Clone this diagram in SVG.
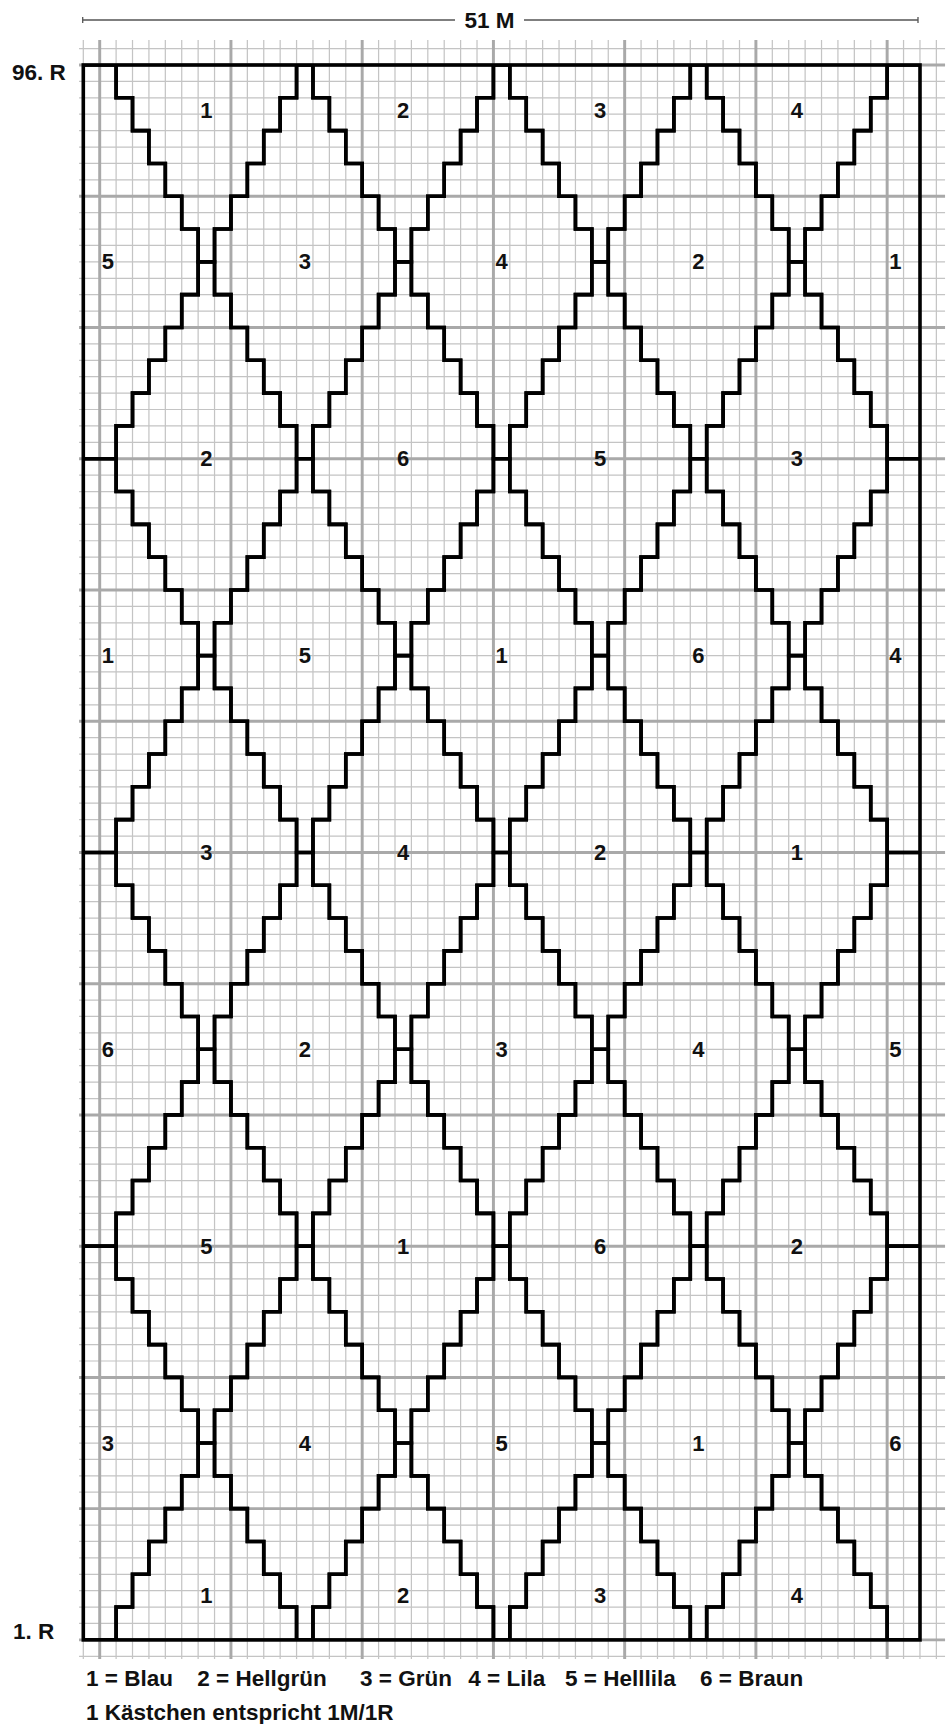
<svg xmlns="http://www.w3.org/2000/svg" xmlns:xlink="http://www.w3.org/1999/xlink" width="950" height="1724" viewBox="0 0 950 1724">
<style>
.thin{stroke:#c4c4c4;stroke-width:0.075;fill:none}
.thick{stroke:#a9a9a9;stroke-width:0.18;fill:none}
.dia{fill:none;stroke:#000;stroke-width:0.22;stroke-linejoin:miter;stroke-linecap:square}
.lbl{font-family:"Liberation Sans",Arial,sans-serif;font-weight:bold;font-size:22px;text-anchor:middle;fill:#111}
.txt{font-family:"Liberation Sans",Arial,sans-serif;font-weight:bold;font-size:22.5px;fill:#111}
.dim{stroke:#555;stroke-width:1.3;fill:none}
</style>
<defs>
<path id="dia" d="M-0.5,-12H0.5V-10H1.5V-8H2.5V-6H3.5V-4H4.5V-2H5.5V2H4.5V4H3.5V6H2.5V8H1.5V10H0.5V12H-0.5V10H-1.5V8H-2.5V6H-3.5V4H-4.5V2H-5.5V-2H-4.5V-4H-3.5V-6H-2.5V-8H-1.5V-10H-0.5Z"/>
<path id="halfL" d="M-1.5,-12H0.5V-10H1.5V-8H2.5V-6H3.5V-4H4.5V-2H5.5V2H4.5V4H3.5V6H2.5V8H1.5V10H0.5V12H-1.5"/>
<path id="halfR" d="M1.5,-12H-0.5V-10H-1.5V-8H-2.5V-6H-3.5V-4H-4.5V-2H-5.5V2H-4.5V4H-3.5V6H-2.5V8H-1.5V10H-0.5V12H1.5"/>
<clipPath id="clip" clipPathUnits="userSpaceOnUse"><rect x="83.3" y="65" width="836.7" height="1574.9"/></clipPath>
</defs>

<!-- header dimension -->
<g id="header">
<path class="dim" d="M82.7,20H455M524,20H918M82.7,17V23M918,17V23"/>
<text class="txt" x="489.5" y="28.3" text-anchor="middle" font-size="23.5">51 M</text>
</g>
<text class="txt" x="12" y="80" font-size="23.5">96. R</text>
<text class="txt" x="13" y="1639.3" font-size="23.5">1. R</text>

<!-- grid -->
<g id="grid" transform="translate(83.3,65) scale(16.405)">
<path class="thin" d="M0,-1.52V97.17M2,-1.52V97.17M3,-1.52V97.17M4,-1.52V97.17M5,-1.52V97.17M6,-1.52V97.17M7,-1.52V97.17M8,-1.52V97.17M10,-1.52V97.17M11,-1.52V97.17M12,-1.52V97.17M13,-1.52V97.17M14,-1.52V97.17M15,-1.52V97.17M16,-1.52V97.17M18,-1.52V97.17M19,-1.52V97.17M20,-1.52V97.17M21,-1.52V97.17M22,-1.52V97.17M23,-1.52V97.17M24,-1.52V97.17M26,-1.52V97.17M27,-1.52V97.17M28,-1.52V97.17M29,-1.52V97.17M30,-1.52V97.17M31,-1.52V97.17M32,-1.52V97.17M34,-1.52V97.17M35,-1.52V97.17M36,-1.52V97.17M37,-1.52V97.17M38,-1.52V97.17M39,-1.52V97.17M40,-1.52V97.17M42,-1.52V97.17M43,-1.52V97.17M44,-1.52V97.17M45,-1.52V97.17M46,-1.52V97.17M47,-1.52V97.17M48,-1.52V97.17M50,-1.52V97.17M51,-1.52V97.17M52,-1.52V97.17"/>
<path class="thin" d="M-0.26,-1H52.53M-0.26,1H52.53M-0.26,2H52.53M-0.26,3H52.53M-0.26,4H52.53M-0.26,5H52.53M-0.26,6H52.53M-0.26,7H52.53M-0.26,9H52.53M-0.26,10H52.53M-0.26,11H52.53M-0.26,12H52.53M-0.26,13H52.53M-0.26,14H52.53M-0.26,15H52.53M-0.26,17H52.53M-0.26,18H52.53M-0.26,19H52.53M-0.26,20H52.53M-0.26,21H52.53M-0.26,22H52.53M-0.26,23H52.53M-0.26,25H52.53M-0.26,26H52.53M-0.26,27H52.53M-0.26,28H52.53M-0.26,29H52.53M-0.26,30H52.53M-0.26,31H52.53M-0.26,33H52.53M-0.26,34H52.53M-0.26,35H52.53M-0.26,36H52.53M-0.26,37H52.53M-0.26,38H52.53M-0.26,39H52.53M-0.26,41H52.53M-0.26,42H52.53M-0.26,43H52.53M-0.26,44H52.53M-0.26,45H52.53M-0.26,46H52.53M-0.26,47H52.53M-0.26,49H52.53M-0.26,50H52.53M-0.26,51H52.53M-0.26,52H52.53M-0.26,53H52.53M-0.26,54H52.53M-0.26,55H52.53M-0.26,57H52.53M-0.26,58H52.53M-0.26,59H52.53M-0.26,60H52.53M-0.26,61H52.53M-0.26,62H52.53M-0.26,63H52.53M-0.26,65H52.53M-0.26,66H52.53M-0.26,67H52.53M-0.26,68H52.53M-0.26,69H52.53M-0.26,70H52.53M-0.26,71H52.53M-0.26,73H52.53M-0.26,74H52.53M-0.26,75H52.53M-0.26,76H52.53M-0.26,77H52.53M-0.26,78H52.53M-0.26,79H52.53M-0.26,81H52.53M-0.26,82H52.53M-0.26,83H52.53M-0.26,84H52.53M-0.26,85H52.53M-0.26,86H52.53M-0.26,87H52.53M-0.26,89H52.53M-0.26,90H52.53M-0.26,91H52.53M-0.26,92H52.53M-0.26,93H52.53M-0.26,94H52.53M-0.26,95H52.53M-0.26,97H52.53"/>
<path class="thick" d="M1,-1.52V97.17M9,-1.52V97.17M17,-1.52V97.17M25,-1.52V97.17M33,-1.52V97.17M41,-1.52V97.17M49,-1.52V97.17M-0.26,0H52.53M-0.26,8H52.53M-0.26,16H52.53M-0.26,24H52.53M-0.26,32H52.53M-0.26,40H52.53M-0.26,48H52.53M-0.26,56H52.53M-0.26,64H52.53M-0.26,72H52.53M-0.26,80H52.53M-0.26,88H52.53M-0.26,96H52.53"/>
</g>

<!-- diamonds -->
<g id="diamonds" clip-path="url(#clip)">
<g id="r0c1"><use class="dia" xlink:href="#dia" transform="translate(206.34,65) scale(16.405)"/></g>
<g id="r0c2"><use class="dia" xlink:href="#dia" transform="translate(403.2,65) scale(16.405)"/></g>
<g id="r0c3"><use class="dia" xlink:href="#dia" transform="translate(600.06,65) scale(16.405)"/></g>
<g id="r0c4"><use class="dia" xlink:href="#dia" transform="translate(796.92,65) scale(16.405)"/></g>

<g id="r1c0"><use class="dia" xlink:href="#halfL" transform="translate(107.91,261.86) scale(16.405)"/></g>
<g id="r1c1"><use class="dia" xlink:href="#dia" transform="translate(304.77,261.86) scale(16.405)"/></g>
<g id="r1c2"><use class="dia" xlink:href="#dia" transform="translate(501.63,261.86) scale(16.405)"/></g>
<g id="r1c3"><use class="dia" xlink:href="#dia" transform="translate(698.49,261.86) scale(16.405)"/></g>
<g id="r1c4"><use class="dia" xlink:href="#halfR" transform="translate(895.35,261.86) scale(16.405)"/></g>

<g id="r2c1"><use class="dia" xlink:href="#dia" transform="translate(206.34,458.72) scale(16.405)"/></g>
<g id="r2c2"><use class="dia" xlink:href="#dia" transform="translate(403.2,458.72) scale(16.405)"/></g>
<g id="r2c3"><use class="dia" xlink:href="#dia" transform="translate(600.06,458.72) scale(16.405)"/></g>
<g id="r2c4"><use class="dia" xlink:href="#dia" transform="translate(796.92,458.72) scale(16.405)"/></g>

<g id="r3c0"><use class="dia" xlink:href="#halfL" transform="translate(107.91,655.58) scale(16.405)"/></g>
<g id="r3c1"><use class="dia" xlink:href="#dia" transform="translate(304.77,655.58) scale(16.405)"/></g>
<g id="r3c2"><use class="dia" xlink:href="#dia" transform="translate(501.63,655.58) scale(16.405)"/></g>
<g id="r3c3"><use class="dia" xlink:href="#dia" transform="translate(698.49,655.58) scale(16.405)"/></g>
<g id="r3c4"><use class="dia" xlink:href="#halfR" transform="translate(895.35,655.58) scale(16.405)"/></g>

<g id="r4c1"><use class="dia" xlink:href="#dia" transform="translate(206.34,852.44) scale(16.405)"/></g>
<g id="r4c2"><use class="dia" xlink:href="#dia" transform="translate(403.2,852.44) scale(16.405)"/></g>
<g id="r4c3"><use class="dia" xlink:href="#dia" transform="translate(600.06,852.44) scale(16.405)"/></g>
<g id="r4c4"><use class="dia" xlink:href="#dia" transform="translate(796.92,852.44) scale(16.405)"/></g>

<g id="r5c0"><use class="dia" xlink:href="#halfL" transform="translate(107.91,1049.3) scale(16.405)"/></g>
<g id="r5c1"><use class="dia" xlink:href="#dia" transform="translate(304.77,1049.3) scale(16.405)"/></g>
<g id="r5c2"><use class="dia" xlink:href="#dia" transform="translate(501.63,1049.3) scale(16.405)"/></g>
<g id="r5c3"><use class="dia" xlink:href="#dia" transform="translate(698.49,1049.3) scale(16.405)"/></g>
<g id="r5c4"><use class="dia" xlink:href="#halfR" transform="translate(895.35,1049.3) scale(16.405)"/></g>

<g id="r6c1"><use class="dia" xlink:href="#dia" transform="translate(206.34,1246.16) scale(16.405)"/></g>
<g id="r6c2"><use class="dia" xlink:href="#dia" transform="translate(403.2,1246.16) scale(16.405)"/></g>
<g id="r6c3"><use class="dia" xlink:href="#dia" transform="translate(600.06,1246.16) scale(16.405)"/></g>
<g id="r6c4"><use class="dia" xlink:href="#dia" transform="translate(796.92,1246.16) scale(16.405)"/></g>

<g id="r7c0"><use class="dia" xlink:href="#halfL" transform="translate(107.91,1443.02) scale(16.405)"/></g>
<g id="r7c1"><use class="dia" xlink:href="#dia" transform="translate(304.77,1443.02) scale(16.405)"/></g>
<g id="r7c2"><use class="dia" xlink:href="#dia" transform="translate(501.63,1443.02) scale(16.405)"/></g>
<g id="r7c3"><use class="dia" xlink:href="#dia" transform="translate(698.49,1443.02) scale(16.405)"/></g>
<g id="r7c4"><use class="dia" xlink:href="#halfR" transform="translate(895.35,1443.02) scale(16.405)"/></g>

<g id="r8c1"><use class="dia" xlink:href="#dia" transform="translate(206.34,1639.88) scale(16.405)"/></g>
<g id="r8c2"><use class="dia" xlink:href="#dia" transform="translate(403.2,1639.88) scale(16.405)"/></g>
<g id="r8c3"><use class="dia" xlink:href="#dia" transform="translate(600.06,1639.88) scale(16.405)"/></g>
<g id="r8c4"><use class="dia" xlink:href="#dia" transform="translate(796.92,1639.88) scale(16.405)"/></g>
</g>

<!-- frame -->
<rect id="frame" x="83.3" y="65" width="836.7" height="1574.9" fill="none" stroke="#000" stroke-width="3.6"/>

<!-- labels -->
<g id="labels">
<text class="lbl" x="206.34" y="118.3">1</text>
<text class="lbl" x="403.2" y="118.3">2</text>
<text class="lbl" x="600.06" y="118.3">3</text>
<text class="lbl" x="796.92" y="118.3">4</text>

<text class="lbl" x="107.91" y="269.4">5</text>
<text class="lbl" x="304.77" y="269.4">3</text>
<text class="lbl" x="501.63" y="269.4">4</text>
<text class="lbl" x="698.49" y="269.4">2</text>
<text class="lbl" x="895.35" y="269.4">1</text>

<text class="lbl" x="206.34" y="466.2">2</text>
<text class="lbl" x="403.2" y="466.2">6</text>
<text class="lbl" x="600.06" y="466.2">5</text>
<text class="lbl" x="796.92" y="466.2">3</text>

<text class="lbl" x="107.91" y="663.1">1</text>
<text class="lbl" x="304.77" y="663.1">5</text>
<text class="lbl" x="501.63" y="663.1">1</text>
<text class="lbl" x="698.49" y="663.1">6</text>
<text class="lbl" x="895.35" y="663.1">4</text>

<text class="lbl" x="206.34" y="859.9">3</text>
<text class="lbl" x="403.2" y="859.9">4</text>
<text class="lbl" x="600.06" y="859.9">2</text>
<text class="lbl" x="796.92" y="859.9">1</text>

<text class="lbl" x="107.91" y="1056.8">6</text>
<text class="lbl" x="304.77" y="1056.8">2</text>
<text class="lbl" x="501.63" y="1056.8">3</text>
<text class="lbl" x="698.49" y="1056.8">4</text>
<text class="lbl" x="895.35" y="1056.8">5</text>

<text class="lbl" x="206.34" y="1253.7">5</text>
<text class="lbl" x="403.2" y="1253.7">1</text>
<text class="lbl" x="600.06" y="1253.7">6</text>
<text class="lbl" x="796.92" y="1253.7">2</text>

<text class="lbl" x="107.91" y="1450.5">3</text>
<text class="lbl" x="304.77" y="1450.5">4</text>
<text class="lbl" x="501.63" y="1450.5">5</text>
<text class="lbl" x="698.49" y="1450.5">1</text>
<text class="lbl" x="895.35" y="1450.5">6</text>

<text class="lbl" x="206.34" y="1602.7">1</text>
<text class="lbl" x="403.2" y="1602.7">2</text>
<text class="lbl" x="600.06" y="1602.7">3</text>
<text class="lbl" x="796.92" y="1602.7">4</text>
</g>

<!-- legend -->
<g id="legend">
<text class="txt" x="86" y="1686">1 = Blau</text>
<text class="txt" x="197.3" y="1686">2 = Hellgrün</text>
<text class="txt" x="360" y="1686">3 = Grün</text>
<text class="txt" x="468.3" y="1686">4 = Lila</text>
<text class="txt" x="565" y="1686">5 = Helllila</text>
<text class="txt" x="700" y="1686">6 = Braun</text>
<text class="txt" x="86" y="1720">1 Kästchen entspricht 1M/1R</text>
</g>
</svg>
